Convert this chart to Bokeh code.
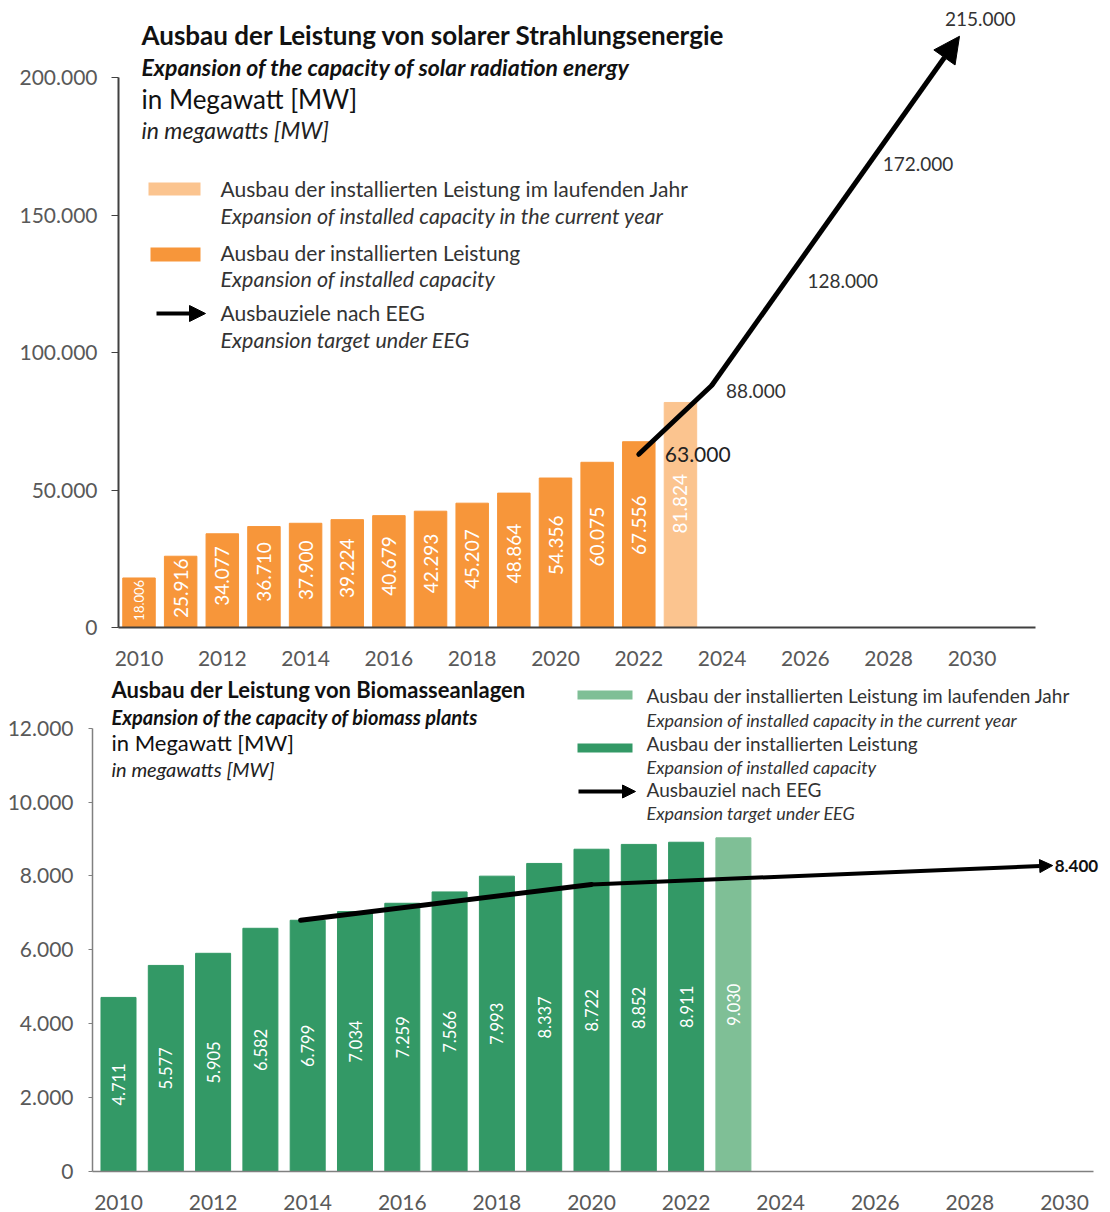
import math
from bokeh.plotting import figure
from bokeh.models import (ColumnDataSource, Label, BoxAnnotation, Arrow, NormalHead,
                          FixedTicker, Range1d)
from bokeh.core.properties import value
from bokeh.embed import file_html
from bokeh.resources import INLINE

# ---------------- data ----------------
years = [2010, 2011, 2012, 2013, 2014, 2015, 2016, 2017, 2018, 2019, 2020, 2021, 2022, 2023]
solar_mw = [18006, 25916, 34077, 36710, 37900, 39224, 40679, 42293, 45207, 48864, 54356, 60075, 67556, 81824]
biomass_mw = [4711, 5577, 5905, 6582, 6799, 7034, 7259, 7566, 7993, 8337, 8722, 8852, 8911, 9030]
current_year = 2023

solar_path_years = [2022, 2023.75, 2029.7]
solar_path_mw = [63000, 88000, 215000]
solar_target_years = [2022, 2024, 2026, 2028, 2030]
solar_target_mw = [63000, 88000, 128000, 172000, 215000]
solar_target_labels = ["63.000", "88.000", "128.000", "172.000", "215.000"]

biomass_path_years = [2013.85, 2020, 2029.75]
biomass_path_mw = [6800, 7770, 8280]
biomass_target_label = "8.400"

x_tick_years = [2010, 2012, 2014, 2016, 2018, 2020, 2022, 2024, 2026, 2028, 2030]
solar_y_ticks = [0, 50000, 100000, 150000, 200000]
solar_y_tick_labels = ["0", "50.000", "100.000", "150.000", "200.000"]
bio_y_ticks = [0, 2000, 4000, 6000, 8000, 10000, 12000]
bio_y_tick_labels = ["0", "2.000", "4.000", "6.000", "8.000", "10.000", "12.000"]

# ---------------- style ----------------
FONT = "Lato"
ORANGE = "#f7963a"
ORANGE_LIGHT = "#fbc48f"
GREEN = "#339966"
GREEN_LIGHT = "#7fbf96"
TICK_COLOR = "#595959"
W = 1110
H1 = 668
H2 = 1212 - H1


def de(v):
    return f"{v:,}".replace(",", ".")


def style_axes(p, yt, ytl, ybound, fs, tick_out, x_standoff, y_standoff, axis_color, axis_w):
    p.outline_line_color = None
    p.grid.visible = False
    p.xaxis.ticker = FixedTicker(ticks=x_tick_years)
    p.xaxis.major_tick_line_color = None
    p.xaxis.minor_tick_line_color = None
    p.xaxis.axis_line_color = axis_color
    p.xaxis.axis_line_width = axis_w
    p.xaxis.major_label_text_font = FONT
    p.xaxis.major_label_text_font_size = fs
    p.xaxis.major_label_text_color = TICK_COLOR
    p.xaxis.major_label_standoff = x_standoff
    p.yaxis.ticker = FixedTicker(ticks=yt)
    p.yaxis.major_label_overrides = {t: l for t, l in zip(yt, ytl)}
    p.yaxis.bounds = (0, ybound)
    p.yaxis.minor_tick_line_color = None
    p.yaxis.major_tick_in = 0
    p.yaxis.major_tick_out = tick_out
    p.yaxis.major_tick_line_color = axis_color
    p.yaxis.axis_line_color = axis_color
    p.yaxis.axis_line_width = axis_w
    p.yaxis.major_label_text_font = FONT
    p.yaxis.major_label_text_font_size = fs
    p.yaxis.major_label_text_color = TICK_COLOR
    p.yaxis.major_label_standoff = y_standoff


def lab(p, fx, fy, px, py, text, size, style="normal", color="#1a1a1a"):
    p.add_layout(Label(x=fx(px), y=fy(py), text=text, text_font=FONT, text_font_size=size,
                       text_font_style=style, text_color=color, text_align="left",
                       text_baseline="middle"))


# ---------------- figure 1 (solar) ----------------
# page geometry (px): frame left 118, right 1035, top 0, bottom 627
L1, R1, T1, B1 = 118, 1035, 0, 627
X0_1 = 2010 - (138.5 - L1) / 41.65
X1_1 = 2010 + (R1 - 138.5) / 41.65
PX_PER_MW_1 = 137.5 / 50000
Y1_1 = (B1 - T1) / PX_PER_MW_1


def fx1(px):
    return X0_1 + (px - L1) / (R1 - L1) * (X1_1 - X0_1)


def fy1(py):
    return (B1 - py) / PX_PER_MW_1


p1 = figure(width=W, height=H1, x_range=Range1d(X0_1, X1_1), y_range=Range1d(0, Y1_1),
            output_backend="svg", toolbar_location=None,
            min_border_left=L1, min_border_right=W - R1, min_border_top=T1, min_border_bottom=H1 - B1)
style_axes(p1, solar_y_ticks, solar_y_tick_labels, 200000, "21px", 7, 17, 14, "#404040", 2)

colors1 = [ORANGE_LIGHT if y == current_year else ORANGE for y in years]
src1 = ColumnDataSource(dict(
    x=years, top=solar_mw, color=colors1,
    ly=[v * 0.55 for v in solar_mw],
    t=[de(v) for v in solar_mw],
    fs=["13px" if v < 20000 else "19px" for v in solar_mw],
))
p1.vbar(x="x", top="top", width=0.78, color="color", source=src1)
p1.text(x="x", y="ly", text="t", angle=math.pi / 2, text_align="center", text_baseline="middle",
        text_color="white", text_font=value(FONT), text_font_size="fs", source=src1)

# target arrow
p1.line(solar_path_years[:-1], solar_path_mw[:-1], line_width=5, line_color="black",
        line_cap="round", line_join="round")
p1.add_layout(Arrow(x_start=solar_path_years[-2], y_start=solar_path_mw[-2],
                    x_end=solar_path_years[-1], y_end=solar_path_mw[-1],
                    line_width=5, line_color="black",
                    end=NormalHead(size=26, fill_color="black", line_color="black")))
lbl_dx = [26, 4, 2, -6, -27]
lbl_dy = [0, 5, 5, 9, -17]
lbl_fs = ["21px", "19px", "19px", "19px", "19px"]
lbl_col = ["#222222", "#333333", "#333333", "#333333", "#333333"]
src1t = ColumnDataSource(dict(x=solar_target_years, y=solar_target_mw, t=solar_target_labels,
                              dx=lbl_dx, dy=lbl_dy, fs=lbl_fs, c=lbl_col))
p1.text(x="x", y="y", text="t", x_offset="dx", y_offset="dy", text_font=value(FONT),
        text_font_size="fs", text_color="c", text_align="left", text_baseline="middle", source=src1t)

# titles
lab(p1, fx1, fy1, 141, 34, "Ausbau der Leistung von solarer Strahlungsenergie", "26px", "bold", "#111111")
lab(p1, fx1, fy1, 141, 66, "Expansion of the capacity of solar radiation energy", "23px", "bold italic", "#111111")
lab(p1, fx1, fy1, 141, 98, "in Megawatt [MW]", "26px", "normal", "#111111")
lab(p1, fx1, fy1, 141, 129, "in megawatts [MW]", "23px", "italic", "#222222")

# legend
p1.add_layout(BoxAnnotation(left=fx1(148), right=fx1(200), top=fy1(182), bottom=fy1(195),
                            fill_color=ORANGE_LIGHT, fill_alpha=1, line_color=None))
p1.add_layout(BoxAnnotation(left=fx1(150), right=fx1(200), top=fy1(247), bottom=fy1(261),
                            fill_color=ORANGE, fill_alpha=1, line_color=None))
p1.add_layout(Arrow(x_start=fx1(156), y_start=fy1(313), x_end=fx1(205), y_end=fy1(313),
                    line_width=4, line_color="black",
                    end=NormalHead(size=16, fill_color="black", line_color="black")))
lab(p1, fx1, fy1, 220, 188, "Ausbau der installierten Leistung im laufenden Jahr", "21px", "normal", "#333333")
lab(p1, fx1, fy1, 220, 215, "Expansion of installed capacity in the current year", "21.5px", "italic", "#333333")
lab(p1, fx1, fy1, 220, 252, "Ausbau der installierten Leistung", "21px", "normal", "#333333")
lab(p1, fx1, fy1, 220, 278, "Expansion of installed capacity", "21.5px", "italic", "#333333")
lab(p1, fx1, fy1, 220, 312, "Ausbauziele nach EEG", "21px", "normal", "#333333")
lab(p1, fx1, fy1, 220, 339, "Expansion target under EEG", "21.5px", "italic", "#333333")

# ---------------- figure 2 (biomass) ----------------
# page geometry: frame left 92, right 1108 (axis line drawn to 1093), top H1, bottom 1171
L2, R2, T2, B2 = 92, 1108, H1, 1171
AXIS_END_PX_2 = 1093
X0_2 = 2010 - (118 - L2) / 47.3
X1_2 = 2010 + (R2 - 118) / 47.3
PX_PER_MW_2 = 0.03695
Y1_2 = (B2 - T2) / PX_PER_MW_2


def fx2(px):
    return X0_2 + (px - L2) / (R2 - L2) * (X1_2 - X0_2)


def fy2(py):
    return (B2 - py) / PX_PER_MW_2


p2 = figure(width=W, height=H2, x_range=Range1d(X0_2, X1_2), y_range=Range1d(0, Y1_2),
            output_backend="svg", toolbar_location=None,
            min_border_left=L2, min_border_right=W - R2, min_border_top=0, min_border_bottom=1212 - B2)
style_axes(p2, bio_y_ticks, bio_y_tick_labels, 12000, "21px", 4, 17, 15, "#808080", 1.5)
p2.xaxis.bounds = (X0_2, fx2(AXIS_END_PX_2))

colors2 = [GREEN_LIGHT if y == current_year else GREEN for y in years]
src2 = ColumnDataSource(dict(x=years, top=biomass_mw, color=colors2,
                             ly=[v / 2 for v in biomass_mw], t=[de(v) for v in biomass_mw]))
p2.vbar(x="x", top="top", width=0.74, color="color", source=src2)
p2.text(x="x", y="ly", text="t", angle=math.pi / 2, text_align="center", text_baseline="middle",
        text_color="white", text_font=value(FONT), text_font_size="16.5px", source=src2)

p2.line(biomass_path_years[:-1], biomass_path_mw[:-1], line_width=5, line_color="black",
        line_cap="round", line_join="round")
p2.add_layout(Arrow(x_start=biomass_path_years[-2], y_start=biomass_path_mw[-2],
                    x_end=biomass_path_years[-1], y_end=biomass_path_mw[-1],
                    line_width=4, line_color="black",
                    end=NormalHead(size=13, fill_color="black", line_color="black")))
p2.add_layout(Label(x=biomass_path_years[-1], y=biomass_path_mw[-1], x_offset=2, text=biomass_target_label,
                    text_font=FONT, text_font_size="17px", text_font_style="bold", text_color="#111111",
                    text_align="left", text_baseline="middle"))

lab(p2, fx2, fy2, 111, 689, "Ausbau der Leistung von Biomasseanlagen", "22px", "bold", "#111111")
lab(p2, fx2, fy2, 111, 716, "Expansion of the capacity of biomass plants", "20px", "bold italic", "#111111")
lab(p2, fx2, fy2, 111, 742, "in Megawatt [MW]", "22px", "normal", "#111111")
lab(p2, fx2, fy2, 111, 768, "in megawatts [MW]", "20px", "italic", "#222222")

p2.add_layout(BoxAnnotation(left=fx2(577), right=fx2(632), top=fy2(690), bottom=fy2(699),
                            fill_color=GREEN_LIGHT, fill_alpha=1, line_color=None))
p2.add_layout(BoxAnnotation(left=fx2(577), right=fx2(632), top=fy2(743), bottom=fy2(752),
                            fill_color=GREEN, fill_alpha=1, line_color=None))
p2.add_layout(Arrow(x_start=fx2(578), y_start=fy2(791), x_end=fx2(635), y_end=fy2(791),
                    line_width=4, line_color="black",
                    end=NormalHead(size=13, fill_color="black", line_color="black")))
lab(p2, fx2, fy2, 646, 695, "Ausbau der installierten Leistung im laufenden Jahr", "19px", "normal", "#333333")
lab(p2, fx2, fy2, 646, 719, "Expansion of installed capacity in the current year", "18px", "italic", "#333333")
lab(p2, fx2, fy2, 646, 743, "Ausbau der installierten Leistung", "19px", "normal", "#333333")
lab(p2, fx2, fy2, 646, 766, "Expansion of installed capacity", "18px", "italic", "#333333")
lab(p2, fx2, fy2, 646, 789, "Ausbauziel nach EEG", "19px", "normal", "#333333")
lab(p2, fx2, fy2, 646, 812, "Expansion target under EEG", "18px", "italic", "#333333")

open("out.html", "w").write(file_html([p1, p2], INLINE))
